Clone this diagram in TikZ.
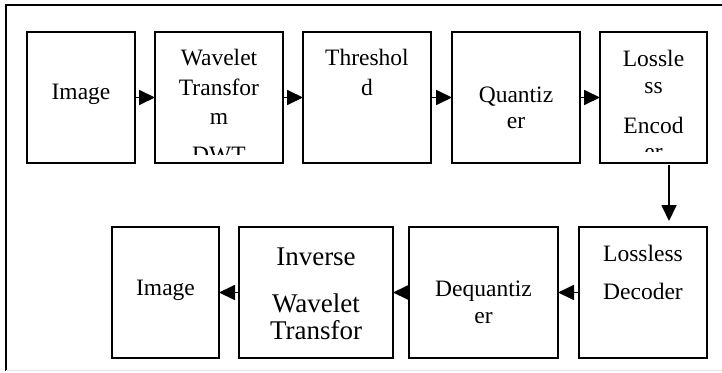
\documentclass[tikz,border=0pt]{standalone}
\usepackage{fontspec}
\setmainfont{Liberation Serif}
\usetikzlibrary{positioning}
\usetikzlibrary{arrows.meta}
\tikzset{
	>={Triangle[length=16pt,width=15pt]},
	blok/.style={
		rectangle,
		draw=black, line width=1.6pt,
		minimum height=131pt,
		inner sep=0pt, outer sep=0pt},
	txt/.style={
		inner sep=0pt,
		align=center,
		font=\fontsize{23.5}{29.5}\selectfont},
	bigtxt/.style={txt, font=\fontsize{27}{27}\selectfont},
	line/.style={draw, line width=1.8pt, ->},
	frame/.style={line width=2pt},
}
\begin{document}
\begin{tikzpicture}[x=1pt,y=-1pt,node distance=20pt]
	\useasboundingbox (0,0) rectangle (722,372);
	\draw[frame] (722,5) -- (6,5) -- (6,371);
	\draw[gray!20, line width=1pt] (6,370.5) -- (722,370.5);

	% compression
	\node[blok, minimum width=108pt, anchor=north west] (img) at (27,32) {};
	\node[blok, minimum width=128pt, right=of img] (dwt) {};
	\node[blok, minimum width=128pt, right=of dwt] (thr) {};
	\node[blok, minimum width=128pt, right=21pt of thr] (qua) {};
	\node[blok, minimum width=107pt, right=of qua] (enc) {};

	% decompression
	\node[blok, minimum width=128pt, below=64pt of enc.south east, anchor=north east] (dec) {};
	\node[blok, minimum width=149pt, left=21pt of dec] (deq) {};
	\node[blok, minimum width=154pt, left=16pt of deq] (inv) {};
	\node[blok, minimum width=107pt, left=of inv] (out) {};

	% texts
	\node[txt, below=52.4pt of img.north] (imgtxt) {Image};
	\begin{scope}
		\clip ([yshift=9pt]dwt.south west) rectangle (dwt.north east);
		\node[txt, below=17pt of dwt.north] (dwttxt) {Wavelet\\Transfor\\m\\[8.5pt]DWT};
	\end{scope}
	\node[txt, below=17pt of thr.north] (thrtxt) {Threshol\\d};
	\node[txt, below=54.4pt of qua.north] (quatxt) {Quantiz\\[-3.5pt]er};
	\begin{scope}
		\clip ([yshift=12pt]enc.south west) rectangle (enc.north east);
		\node[txt, below=18pt of enc.north] (enctxt) {Lossle\\[-2.5pt]ss\\[10.5pt]Encod\\[-4pt]er};
	\end{scope}
	\node[txt, below=18pt of dec.north] (dectxt) {Lossless\\[8.5pt]Decoder};
	\node[txt, below=53.4pt of deq.north] (deqtxt) {Dequantiz\\[-2.5pt]er};
	\begin{scope}
		\clip ([yshift=8pt]inv.south west) rectangle (inv.north east);
		\node[bigtxt, below=21pt of inv.north] (invtxt) {Inverse\\[20pt]Wavelet\\Transfor\\m};
	\end{scope}
	\node[txt, below=53.4pt of out.north] (outtxt) {Image};

	% arrows
	\draw[line] (img.east) -- (dwt.west);
	\draw[line] (dwt.east) -- (thr.west);
	\draw[line] (thr.east) -- (qua.west);
	\draw[line] (qua.east) -- (enc.west);
	\draw[line] ([xshift=15.5pt,yshift=-2pt]enc.south) -- ([xshift=26pt,yshift=6pt]dec.north);
	\draw[line] (dec.west) -- (deq.east);
	\draw[line] (deq.west) -- (inv.east);
	\draw[line] (inv.west) -- (out.east);
\end{tikzpicture}
\end{document}
